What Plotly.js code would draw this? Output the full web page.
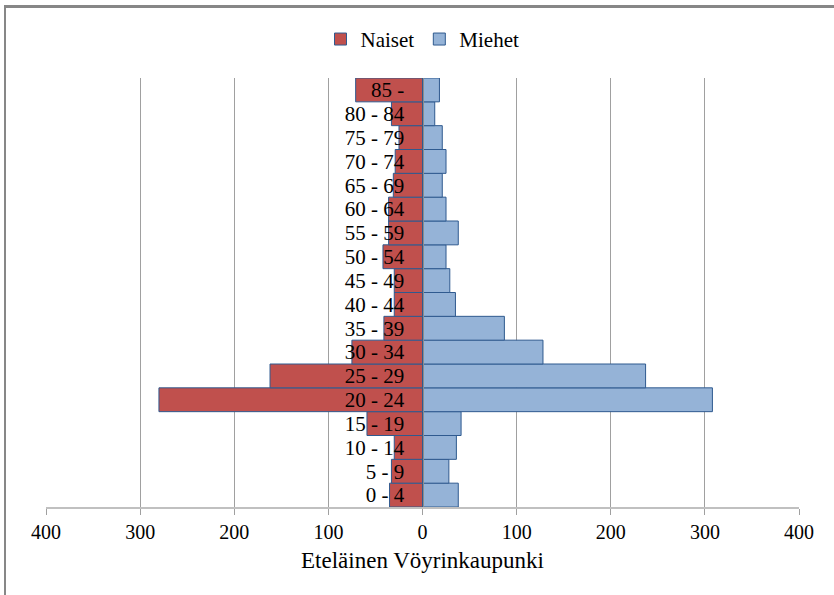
<!DOCTYPE html>
<html>
<head>
<meta charset="utf-8">
<script src="https://cdn.plot.ly/plotly-3.0.1.min.js"></script>
<style>
  html, body { margin: 0; padding: 0; background: #ffffff; }
  #wrap { position: relative; width: 834px; height: 595px; overflow: hidden; }
  #chart { position: absolute; left: 0; top: 0; width: 834px; height: 595px; }
  #topline { position: absolute; left: 4px; top: 5px; width: 830px; height: 3px; background: #878787; z-index: 5; }
  #leftline { position: absolute; left: 4px; top: 5px; width: 2px; height: 590px; background: #878787; z-index: 5; }
</style>
</head>
<body>
<div id="wrap">
  <div id="chart"></div>
  <div id="topline"></div>
  <div id="leftline"></div>
</div>
<script>
// Age groups (bottom to top)
const ageGroups = ['0 - 4', '5 - 9', '10 - 14', '15 - 19', '20 - 24', '25 - 29', '30 - 34', '35 - 39',
  '40 - 44', '45 - 49', '50 - 54', '55 - 59', '60 - 64', '65 - 69', '70 - 74', '75 - 79', '80 - 84', '85 -'];
// Women (drawn to the left)
const naiset = [35, 33, 30, 59, 280, 162, 75, 41, 30, 30, 42, 36, 36, 31, 29, 25, 33, 71];
// Men (drawn to the right)
const miehet = [38, 28, 36, 41, 308, 237, 128, 87, 35, 29, 25, 38, 25, 21, 25, 21, 13, 18];
// X tick values and labels
const xTickVals = [-400, -300, -200, -100, 0, 100, 200, 300, 400];
const xTickText = ['400', '300', '200', '100', '0', '100', '200', '300', '400'];

const serif = 'Liberation Serif';
const outline = { color: '#2f5a8f', width: 1 };

const traces = [
  {
    type: 'bar', orientation: 'h', name: 'Naiset',
    y: ageGroups, x: naiset.map(v => -v),
    marker: { color: '#c0504d', line: outline },
    hoverinfo: 'skip'
  },
  {
    type: 'bar', orientation: 'h', name: 'Miehet',
    y: ageGroups, x: miehet,
    marker: { color: '#95b3d7', line: outline },
    hoverinfo: 'skip'
  }
];

const layout = {
  width: 834, height: 595,
  margin: { l: 46, r: 35, t: 78, b: 88 },
  paper_bgcolor: '#ffffff', plot_bgcolor: '#ffffff',
  barmode: 'relative', bargap: 0,
  font: { family: serif, color: '#000000', size: 18 },
  showlegend: true,
  legend: {
    orientation: 'h', x: 0.5, xanchor: 'center', y: 1.09, yanchor: 'middle',
    font: { family: serif, size: 21, color: '#000000' },
    traceorder: 'normal', itemwidth: 30
  },
  xaxis: {
    range: [-400, 400], tickmode: 'array', tickvals: xTickVals, ticktext: xTickText,
    showgrid: true, gridcolor: '#a0a0a0', gridwidth: 1,
    zeroline: false,
    showline: true, linecolor: '#c0c0c0', linewidth: 2,
    ticks: 'outside', ticklen: 6, tickcolor: '#a0a0a0', tickwidth: 1,
    tickfont: { family: serif, size: 20, color: '#000000' },
    title: { text: 'Eteläinen Vöyrinkaupunki', font: { family: serif, size: 23, color: '#000000' }, standoff: 10 },
    fixedrange: true
  },
  yaxis: {
    type: 'category', categoryorder: 'array', categoryarray: ageGroups,
    tickmode: 'array', tickvals: ageGroups, ticktext: ageGroups,
    anchor: 'free', position: 0.5, side: 'left',
    showgrid: false, zeroline: false,
    showline: true, linecolor: '#8c8c8c', linewidth: 1,
    ticks: '', ticklabelstandoff: 14,
    tickfont: { family: serif, size: 21, color: '#000000' },
    fixedrange: true
  }
};

Plotly.newPlot('chart', traces, layout, { displayModeBar: false, staticPlot: true });
</script>
</body>
</html>
